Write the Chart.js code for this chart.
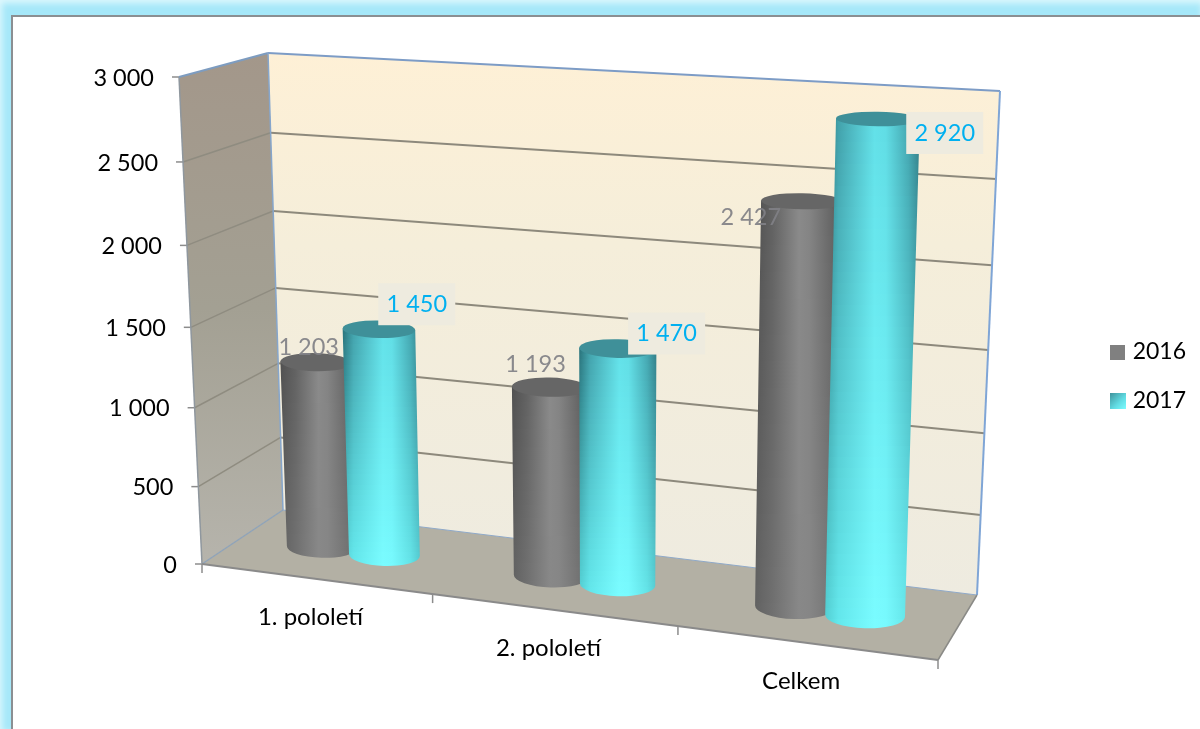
<!DOCTYPE html>
<html>
<head>
<meta charset="utf-8">
<title>Pololetí 2016 / 2017</title>
<script src="https://cdn.jsdelivr.net/npm/chart.js@4/dist/chart.umd.min.js"></script>
<style>
  html, body { margin: 0; padding: 0; background: #fff; }
  #frame { position: absolute; left: 0; top: 0; width: 1200px; height: 729px; overflow: hidden;
           background: #a6e8f9; box-shadow: inset 2px 3px 6px #dff8fd; }
  #inner { position: absolute; left: 11px; top: 15px; right: -4px; bottom: -4px; background: #fff;
           border-left: 2px solid #8b8f92; border-top: 2px solid #8b8f92; }
  canvas { position: absolute; left: 0; top: 0; }
</style>
</head>
<body>
<div id="frame"><div id="inner"></div></div>
<canvas id="chart" width="1200" height="729"></canvas>
<script>
const categories = ['1. pololetí', '2. pololetí', 'Celkem'];
const seriesNames = ['2016', '2017'];
const values2016 = [1203, 1193, 2427];
const values2017 = [1450, 1470, 2920];
const yTickLabels = ['0', '500', '1 000', '1 500', '2 000', '2 500', '3 000'];
const labels2016 = ['1 203', '1 193', '2 427'];
const labels2017 = ['1 450', '1 470', '2 920'];

const FONT = 'Lato, "Open Sans", sans-serif';

// corners of the 3D box as seen on screen
const box = {
  frontBL: [202, 564], frontTL: [179, 77], frontBR: [938, 660], frontTR: [951, 130],
  backBL: [283, 510], backTL: [268, 53], backBR: [977, 595], backTR: [1000, 91]
};

const lerp = (a, b, t) => a + (b - a) * t;

function project(u, v, w) {
  // small correction for the perspective of the original
  const uu = u - 0.09 * u * (1 - u);
  const vv = v - 0.056 * v * (1 - v);
  const pick = i => {
    const front = lerp(lerp(box.frontBL[i], box.frontBR[i], uu), lerp(box.frontTL[i], box.frontTR[i], uu), vv);
    const back = lerp(lerp(box.backBL[i], box.backBR[i], uu), lerp(box.backTL[i], box.backTR[i], uu), vv);
    return lerp(front, back, w);
  };
  return [pick(0), pick(1)];
}

function poly(ctx, pts) {
  ctx.beginPath();
  pts.forEach((p, i) => i ? ctx.lineTo(p[0], p[1]) : ctx.moveTo(p[0], p[1]));
  ctx.closePath();
}

function line(ctx, a, b, color, width) {
  ctx.beginPath();
  ctx.moveTo(a[0], a[1]);
  ctx.lineTo(b[0], b[1]);
  ctx.strokeStyle = color;
  ctx.lineWidth = width;
  ctx.stroke();
}

const barStyles = [
  {
    lid: '#666666',
    stops: [0, 0.2, 0.5, 0.62, 0.88, 1],
    top: [[80, 80, 80], [98, 98, 98], [138, 138, 138], [132, 132, 132], [100, 100, 100], [88, 88, 88]],
    bottom: [[98, 98, 98], [112, 112, 112], [136, 136, 136], [134, 134, 134], [116, 116, 116], [104, 104, 104]]
  },
  {
    lid: '#3f9099',
    stops: [0, 0.14, 0.52, 0.64, 0.88, 1],
    top: [[40, 112, 120], [66, 160, 170], [98, 224, 232], [96, 220, 228], [68, 165, 175], [50, 124, 134]],
    bottom: [[84, 208, 212], [100, 232, 236], [122, 252, 255], [120, 250, 254], [100, 228, 232], [86, 204, 210]]
  }
];

function drawCylinder(ctx, bar, style, chartArea) {
  const toU = x => (x - chartArea.left) / chartArea.width;
  const toV = y => (chartArea.bottom - y) / chartArea.height;
  const half = bar.width / 2;
  const v = toV(bar.y);
  const topL = project(toU(bar.x - half), v, 0.5);
  const topR = project(toU(bar.x + half), v, 0.5);
  const botL = project(toU(bar.x - half), 0, 0.5);
  const botR = project(toU(bar.x + half), 0, 0.5);
  const rx = (topR[0] - topL[0]) / 2;
  const rxBot = (botR[0] - botL[0]) / 2;
  // the lids flatten towards the eye level at the top of the box
  const topRy = rx * (0.31 - 0.14 * v);
  const botRy = rxBot * 0.31;
  const topAng = Math.atan2(topR[1] - topL[1], topR[0] - topL[0]) * 0.25;
  const botAng = Math.atan2(botR[1] - botL[1], botR[0] - botL[0]) * 0.25;
  const topC = [(topL[0] + topR[0]) / 2, (topL[1] + topR[1]) / 2];
  const botC = [(botL[0] + botR[0]) / 2, (botL[1] + botR[1]) / 2];

  // body, shaded in bands from the dark top to the bright bottom
  ctx.save();
  ctx.beginPath();
  ctx.ellipse(botC[0], botC[1], rxBot, botRy, botAng, 0, Math.PI);
  ctx.lineTo(topC[0] - rx * Math.cos(topAng), topC[1] - rx * Math.sin(topAng));
  ctx.lineTo(topC[0] + rx * Math.cos(topAng), topC[1] + rx * Math.sin(topAng));
  ctx.closePath();
  ctx.clip();
  const y0 = topC[1] - topRy - 2;
  const y1 = botC[1] + botRy + 2;
  const minX = Math.min(topL[0], botL[0]);
  const maxX = Math.max(topR[0], botR[0]);
  const bands = 48;
  for (let i = 0; i < bands; i++) {
    const t = i / (bands - 1);
    const g = ctx.createLinearGradient(minX, 0, maxX, 0);
    style.stops.forEach((s, k) => {
      const c = style.top[k].map((n, j) => Math.round(lerp(n, style.bottom[k][j], t)));
      g.addColorStop(s, 'rgb(' + c.join(',') + ')');
    });
    ctx.fillStyle = g;
    const a = Math.round(lerp(y0, y1, i / bands));
    const b = Math.round(lerp(y0, y1, (i + 1) / bands));
    ctx.fillRect(minX - 2, a, maxX - minX + 4, b - a);
  }
  ctx.restore();

  // lid
  ctx.beginPath();
  ctx.ellipse(topC[0], topC[1], rx, topRy, topAng, 0, Math.PI * 2);
  ctx.fillStyle = style.lid;
  ctx.fill();
}

const box3d = {
  id: 'box3d',
  beforeDatasetsDraw(chart) {
    const ctx = chart.ctx;
    const y = chart.scales.y;
    const x = chart.scales.x;
    const area = chart.chartArea;

    // back wall
    const backPts = [project(0, 0, 1), project(1, 0, 1), project(1, 1, 1), project(0, 1, 1)];
    const backFill = ctx.createLinearGradient(0, backPts[3][1], 0, backPts[1][1]);
    backFill.addColorStop(0, '#fef0d6');
    backFill.addColorStop(0.35, '#f5eeda');
    backFill.addColorStop(1, '#eeebe0');
    poly(ctx, backPts);
    ctx.fillStyle = backFill;
    ctx.fill();

    // left wall
    const leftPts = [project(0, 0, 0), project(0, 1, 0), project(0, 1, 1), project(0, 0, 1)];
    const leftFill = ctx.createLinearGradient(0, leftPts[2][1], 0, leftPts[0][1]);
    leftFill.addColorStop(0, '#a3978a');
    leftFill.addColorStop(0.5, '#a3a093');
    leftFill.addColorStop(1, '#b6b4ac');
    poly(ctx, leftPts);
    ctx.fillStyle = leftFill;
    ctx.fill();

    // floor
    poly(ctx, [project(0, 0, 0), project(1, 0, 0), project(1, 0, 1), project(0, 0, 1)]);
    ctx.fillStyle = '#b3b0a4';
    ctx.fill();

    // grid lines and value axis
    y.ticks.forEach((tick, i) => {
      const v = (area.bottom - y.getPixelForValue(tick.value)) / area.height;
      const front = project(0, v, 0);
      const corner = project(0, v, 1);
      const right = project(1, v, 1);
      if (v > 0 && v < 1) {
        line(ctx, front, corner, '#8f8c80', 1.5);
        line(ctx, corner, right, '#8d897c', 2);
      }
      line(ctx, [front[0] - 7, front[1]], front, '#8c8c8c', 1.5);
      ctx.font = '23.5px ' + FONT;
      ctx.fillStyle = '#000';
      ctx.textAlign = 'right';
      ctx.textBaseline = 'middle';
      ctx.fillText(yTickLabels[i], front[0] - 25, front[1] + 1);
    });

    // wall edges
    line(ctx, project(0, 0, 0), project(0, 1, 0), '#8f979e', 1.5);
    line(ctx, project(0, 1, 0), project(0, 1, 1), '#7d9cc0', 2);
    line(ctx, project(0, 1, 1), project(1, 1, 1), '#7d9cc6', 2);
    line(ctx, project(1, 1, 1), project(1, 0, 1), '#7fa5d6', 2);
    line(ctx, project(0, 1, 1), project(0, 0, 1), '#86a6cc', 1.5);
    line(ctx, project(0, 0, 1), project(0, 0, 0), '#8fa3b8', 1.5);
    line(ctx, project(0, 0, 1), project(1, 0, 1), '#8fa9c8', 1);
    line(ctx, project(1, 0, 1), project(1, 0, 0), '#8a8a86', 1.5);
    line(ctx, project(0, 0, 0), project(1, 0, 0), '#8a8a8a', 2);

    // category axis
    const groups = categories.length;
    for (let i = 0; i <= groups; i++) {
      const p = project(i / groups, 0, 0);
      line(ctx, p, [p[0], p[1] + 9], '#8c8c8c', 1.5);
    }
    categories.forEach((name, i) => {
      const u = (x.getPixelForValue(i) - area.left) / area.width;
      const p = project(u, 0, 0);
      ctx.font = '24px ' + FONT;
      ctx.fillStyle = '#000';
      ctx.textAlign = 'center';
      ctx.textBaseline = 'middle';
      ctx.fillText(name, p[0] - 5, p[1] + 38);
    });
  },
  beforeDatasetDraw() {
    return false;
  },
  afterDatasetsDraw(chart) {
    const ctx = chart.ctx;
    const area = chart.chartArea;
    chart.data.datasets.forEach((ds, d) => {
      chart.getDatasetMeta(d).data.forEach(bar => drawCylinder(ctx, bar, barStyles[d], area));
    });
    // value labels were placed by hand in the original
    const offsets = [
      [[-7, -15], [-14, -23], [-51, 16]],
      [[38, -25], [49, -15], [67, 14]]
    ];
    const texts = [labels2016, labels2017];
    chart.data.datasets.forEach((ds, d) => {
      chart.getDatasetMeta(d).data.forEach((bar, i) => {
        const p = project((bar.x - area.left) / area.width, (area.bottom - bar.y) / area.height, 0.5);
        const lx = p[0] + offsets[d][i][0];
        const ly = p[1] + offsets[d][i][1];
        if (d === 1) {
          ctx.fillStyle = '#eeebdf';
          ctx.fillRect(lx - 38.5, ly - 21, 77, 42);
        }
        ctx.font = '23.5px ' + FONT;
        ctx.textAlign = 'center';
        ctx.textBaseline = 'middle';
        ctx.fillStyle = d === 1 ? '#00b0f0' : 'rgba(128,128,134,0.92)';
        ctx.fillText(texts[d][i], lx, ly);
      });
    });
  }
};

// legend swatches as small canvases, so the gap to the text can match the original
function makeSwatch(size, paint) {
  const c = document.createElement('canvas');
  c.width = size;
  c.height = size;
  const cx = c.getContext('2d');
  cx.fillStyle = paint(cx);
  cx.fillRect(0, 0, size, size);
  return c;
}

const swatches = [
  makeSwatch(15, () => '#808080'),
  makeSwatch(16, cx => {
    const g = cx.createLinearGradient(0, 0, 16, 16);
    g.addColorStop(0, '#3f929b');
    g.addColorStop(0.6, '#62dde4');
    g.addColorStop(1, '#7cfcff');
    return g;
  })
];

new Chart(document.getElementById('chart').getContext('2d'), {
  type: 'bar',
  data: {
    labels: categories,
    datasets: [
      { label: seriesNames[0], data: values2016, backgroundColor: '#808080' },
      { label: seriesNames[1], data: values2017, backgroundColor: '#5ad8de' }
    ]
  },
  options: {
    responsive: false,
    animation: false,
    events: [],
    categoryPercentage: 0.56,
    barPercentage: 1.12,
    layout: { padding: { left: 200, top: 24, right: 4, bottom: 0 } },
    scales: {
      x: { display: false },
      y: { display: false, min: 0, max: 3000, ticks: { stepSize: 500 } }
    },
    plugins: {
      tooltip: { enabled: false },
      legend: {
        position: 'right',
        labels: {
          usePointStyle: true,
          pointStyleWidth: 7,
          boxHeight: 15,
          padding: 26,
          color: '#000',
          font: { family: FONT, size: 23 },
          generateLabels(chart) {
            const items = Chart.defaults.plugins.legend.labels.generateLabels(chart);
            items.forEach((item, i) => {
              item.pointStyle = swatches[i];
              item.lineWidth = 0;
            });
            return items;
          }
        }
      }
    }
  },
  plugins: [box3d]
});
</script>
</body>
</html>
